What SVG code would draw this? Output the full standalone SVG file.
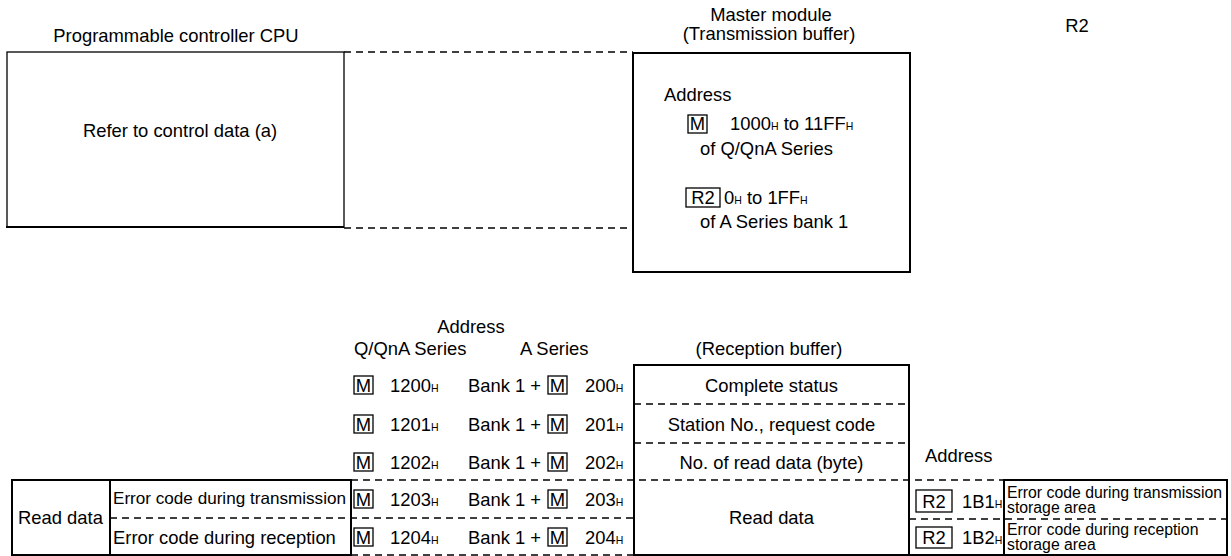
<svg xmlns="http://www.w3.org/2000/svg" width="1231" height="556" viewBox="0 0 1231 556">
<style>
text{font-family:"Liberation Sans",Arial,sans-serif;font-size:18.4px;fill:#000}
.c{text-anchor:middle}
.s{font-size:10.5px}
.sm{font-size:15.8px}
.box{fill:none;stroke:#000;stroke-width:2}
.thin{fill:none;stroke:#000;stroke-width:1.3}
.dash{fill:none;stroke:#000;stroke-width:1.5;stroke-dasharray:7 5}
.ln{fill:none;stroke:#000;stroke-width:2}
</style>
<rect width="1231" height="556" fill="#fff"/>

<g id="cpu">
<text class="c" x="176" y="42">Programmable controller CPU</text>
<rect class="thin" x="7" y="52" width="337" height="175"/>
<line class="ln" x1="6" y1="227" x2="344" y2="227"/>
<text class="c" x="180" y="137">Refer to control data (a)</text>
</g>

<g id="master">
<text class="c" x="771" y="21">Master module</text>
<text class="c" x="769" y="40">(Transmission buffer)</text>
<rect class="box" x="633" y="53" width="277" height="219"/>
<text x="664" y="101">Address</text>
<rect class="thin" x="688" y="115" width="19" height="18"/>
<text class="c" x="697.5" y="130">M</text>
<text x="730" y="130">1000<tspan class="s">H</tspan> to 11FF<tspan class="s">H</tspan></text>
<text x="700" y="155">of Q/QnA Series</text>
<rect class="thin" x="686" y="188" width="34" height="19"/>
<text class="c" x="703" y="204">R2</text>
<text x="724" y="204">0<tspan class="s">H</tspan> to 1FF<tspan class="s">H</tspan></text>
<text x="700" y="228">of A Series bank 1</text>
</g>

<g id="r2label">
<text class="c" x="1077" y="32">R2</text>
</g>

<g id="addressTable">
<text class="c" x="471" y="333">Address</text>
<text x="354" y="355">Q/QnA Series</text>
<text x="520" y="355">A Series</text>
<rect class="thin" x="354" y="376" width="19" height="18"/><text class="c" x="363.5" y="391.5">M</text>
<text x="390" y="391.5">1200<tspan class="s">H</tspan></text>
<text x="468" y="391.5">Bank 1 +</text>
<rect class="thin" x="548" y="376" width="19" height="18"/><text class="c" x="557.5" y="391.5">M</text>
<text x="585" y="391.5">200<tspan class="s">H</tspan></text>

<rect class="thin" x="354" y="415" width="19" height="18"/><text class="c" x="363.5" y="430.5">M</text>
<text x="390" y="430.5">1201<tspan class="s">H</tspan></text>
<text x="468" y="430.5">Bank 1 +</text>
<rect class="thin" x="548" y="415" width="19" height="18"/><text class="c" x="557.5" y="430.5">M</text>
<text x="585" y="430.5">201<tspan class="s">H</tspan></text>

<rect class="thin" x="354" y="453" width="19" height="18"/><text class="c" x="363.5" y="468.5">M</text>
<text x="390" y="468.5">1202<tspan class="s">H</tspan></text>
<text x="468" y="468.5">Bank 1 +</text>
<rect class="thin" x="548" y="453" width="19" height="18"/><text class="c" x="557.5" y="468.5">M</text>
<text x="585" y="468.5">202<tspan class="s">H</tspan></text>

<rect class="thin" x="354" y="490" width="19" height="18"/><text class="c" x="363.5" y="505.5">M</text>
<text x="390" y="505.5">1203<tspan class="s">H</tspan></text>
<text x="468" y="505.5">Bank 1 +</text>
<rect class="thin" x="548" y="490" width="19" height="18"/><text class="c" x="557.5" y="505.5">M</text>
<text x="585" y="505.5">203<tspan class="s">H</tspan></text>

<rect class="thin" x="354" y="528" width="19" height="18"/><text class="c" x="363.5" y="543.5">M</text>
<text x="390" y="543.5">1204<tspan class="s">H</tspan></text>
<text x="468" y="543.5">Bank 1 +</text>
<rect class="thin" x="548" y="528" width="19" height="18"/><text class="c" x="557.5" y="543.5">M</text>
<text x="585" y="543.5">204<tspan class="s">H</tspan></text>
</g>

<g id="reception">
<text class="c" x="769" y="355">(Reception buffer)</text>
<rect class="box" x="634" y="365" width="275" height="190"/>
<text class="c" x="771.5" y="391.5">Complete status</text>
<text class="c" x="771.5" y="430.5">Station No., request code</text>
<text class="c" x="771.5" y="468.5">No. of read data (byte)</text>
<text class="c" x="771.5" y="524">Read data</text>
</g>

<g id="readData">
<rect class="box" x="12" y="480" width="339" height="75"/>
<line class="ln" x1="110" y1="480" x2="110" y2="555"/>
<text x="18" y="524">Read data</text>
<text x="113" y="504" style="font-size:16.5px" textLength="233" lengthAdjust="spacingAndGlyphs">Error code during transmission</text>
<text x="113" y="544">Error code during reception</text>
</g>

<g id="errorArea">
<text x="925" y="462">Address</text>
<line class="ln" x1="909" y1="555" x2="1228" y2="555"/>
<polyline class="ln" points="1004,555 1004,480 1227,480 1227,555"/>
<rect class="thin" x="916" y="490" width="36" height="22"/>
<text class="c" x="934" y="508">R2</text>
<text x="962" y="508">1B1<tspan class="s">H</tspan></text>
<rect class="thin" x="916" y="527" width="36" height="21"/>
<text class="c" x="934" y="544">R2</text>
<text x="962" y="544">1B2<tspan class="s">H</tspan></text>
<text class="sm" x="1007" y="498">Error code during transmission</text>
<text class="sm" x="1007" y="513">storage area</text>
<text class="sm" x="1007" y="535">Error code during reception</text>
<text class="sm" x="1007" y="550">storage area</text>
</g>

<g id="connectors">
<line class="dash" x1="344" y1="52" x2="633" y2="52"/>
<line class="dash" x1="344" y1="228" x2="633" y2="228"/>
<line class="dash" x1="634" y1="404" x2="909" y2="404"/>
<line class="dash" x1="634" y1="443" x2="909" y2="443"/>
<line class="dash" x1="351" y1="480" x2="1004" y2="480"/>
<line class="dash" x1="110" y1="518" x2="634" y2="518"/>
<line class="dash" x1="909" y1="519" x2="1227" y2="519"/>
<line class="dash" x1="351" y1="555" x2="634" y2="555"/>
</g>
</svg>
